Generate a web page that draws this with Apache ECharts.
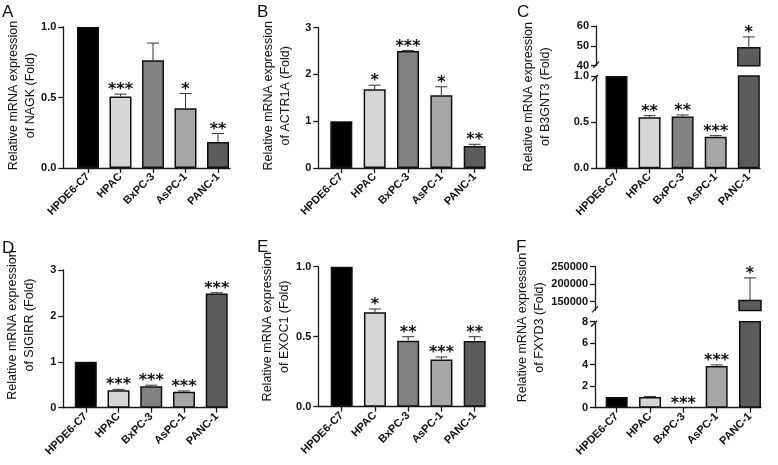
<!DOCTYPE html>
<html><head><meta charset="utf-8">
<script src="https://cdn.jsdelivr.net/npm/echarts@6.0.0/dist/echarts.min.js"></script>
<style>html,body{margin:0;padding:0;background:#fff}#chart{width:778px;height:465px}</style>
</head><body><div id="chart"></div>
<script>
const categories = ['HPDE6-C7', 'HPAC', 'BxPC-3', 'AsPC-1', 'PANC-1'];

// A - NAGK
const nagkMean = [1.0, 0.507, 0.765, 0.424, 0.184];
const nagkSem  = [0, 0.017, 0.121, 0.104, 0.061];
const nagkSig  = ['', '***', '', '*', '**'];
const nagkTicks = [0, 0.5, 1.0];
const nagkTickLabels = ['0.0', '0.5', '1.0'];

// B - ACTR1A
const actr1aMean = [1.0, 1.686, 2.5, 1.557, 0.471];
const actr1aSem  = [0, 0.085, 0.01, 0.18, 0.036];
const actr1aSig  = ['', '*', '***', '*', '**'];
const actr1aTicks = [0, 1, 2, 3];
const actr1aTickLabels = ['0', '1', '2', '3'];

// C - B3GNT3 (broken axis)
const b3gnt3Mean = [1.0, 0.552, 0.56, 0.343, 49];
const b3gnt3Sem  = [0, 0.018, 0.018, 0.011, 5.5];
const b3gnt3Sig  = ['', '**', '**', '***', '*'];
const b3gnt3LowerTicks = [0, 0.5, 1.0];
const b3gnt3LowerLabels = ['0.0', '0.5', '1.0'];
const b3gnt3UpperRange = [40, 60];
const b3gnt3UpperTicks = [40, 50, 60];
const b3gnt3UpperLabels = ['40', '50', '60'];

// D - SIGIRR
const sigirrMean = [1.0, 0.38, 0.465, 0.345, 2.49];
const sigirrSem  = [0, 0.02, 0.025, 0.02, 0.015];
const sigirrSig  = ['', '***', '***', '***', '***'];
const sigirrTicks = [0, 1, 2, 3];
const sigirrTickLabels = ['0', '1', '2', '3'];

// E - EXOC1
const exoc1Mean = [1.0, 0.674, 0.471, 0.338, 0.469];
const exoc1Sem  = [0, 0.024, 0.029, 0.017, 0.031];
const exoc1Sig  = ['', '*', '**', '***', '**'];
const exoc1Ticks = [0, 0.5, 1.0];
const exoc1TickLabels = ['0.0', '0.5', '1.0'];

// F - FXYD3 (broken axis)
const fxyd3Mean = [1.0, 1.0, 0.0, 3.88, 153000];
const fxyd3Sem  = [0, 0.05, 0, 0.1, 65000];
const fxyd3Sig  = ['', '', '***', '***', '*'];
const fxyd3LowerTicks = [0, 2, 4, 6, 8];
const fxyd3LowerLabels = ['0', '2', '4', '6', '8'];
const fxyd3UpperRange = [125000, 250000];
const fxyd3UpperTicks = [150000, 200000, 250000];
const fxyd3UpperLabels = ['150000', '200000', '250000'];

// styles
const barColors = ['#000000', '#d6d6d6', '#828282', '#a6a6a6', '#5c5c5c'];
const AX = '#1a1a1a';
const TXT = '#111111';

// layout (pixels)
const panels = [
  { letter: 'A', gene: 'NAGK', mean: nagkMean, sem: nagkSem, sig: nagkSig,
    segs: [{ ticks: nagkTicks, labels: nagkTickLabels, range: [0, 1] }],
    lay: { yx: 63.3, first: 88, last: 218, end: 230, segs: [{ top: 27, bottom: 168 }], title: [22, 95.5], letterPos: [2, 4] } },
  { letter: 'B', gene: 'ACTR1A', mean: actr1aMean, sem: actr1aSem, sig: actr1aSig,
    segs: [{ ticks: actr1aTicks, labels: actr1aTickLabels, range: [0, 3] }],
    lay: { yx: 318.3, first: 341.3, last: 474.7, end: 485, segs: [{ top: 27.7, bottom: 168 }], title: [277, 95.8], letterPos: [257, 3.5] } },
  { letter: 'C', gene: 'B3GNT3', mean: b3gnt3Mean, sem: b3gnt3Sem, sig: b3gnt3Sig,
    segs: [{ ticks: b3gnt3LowerTicks, labels: b3gnt3LowerLabels, range: [0, 1] },
           { ticks: b3gnt3UpperTicks, labels: b3gnt3UpperLabels, range: b3gnt3UpperRange }],
    lay: { yx: 596, first: 616.5, last: 748.8, end: 760, segs: [{ top: 76, bottom: 168.3 }, { top: 26, bottom: 65.7 }], title: [537, 96.7], letterPos: [517, 3.5] } },
  { letter: 'D', gene: 'SIGIRR', mean: sigirrMean, sem: sigirrSem, sig: sigirrSig,
    segs: [{ ticks: sigirrTicks, labels: sigirrTickLabels, range: [0, 3] }],
    lay: { yx: 63.3, first: 85.8, last: 216.7, end: 227.3, segs: [{ top: 270, bottom: 407.7 }], title: [21, 325], letterPos: [2, 240] } },
  { letter: 'E', gene: 'EXOC1', mean: exoc1Mean, sem: exoc1Sem, sig: exoc1Sig,
    segs: [{ ticks: exoc1Ticks, labels: exoc1TickLabels, range: [0, 1] }],
    lay: { yx: 318.3, first: 341.7, last: 474.7, end: 485, segs: [{ top: 266.7, bottom: 406.7 }], title: [276, 326.7], letterPos: [257, 239] } },
  { letter: 'F', gene: 'FXYD3', mean: fxyd3Mean, sem: fxyd3Sem, sig: fxyd3Sig,
    segs: [{ ticks: fxyd3LowerTicks, labels: fxyd3LowerLabels, range: [0, 8] },
           { ticks: fxyd3UpperTicks, labels: fxyd3UpperLabels, range: fxyd3UpperRange }],
    lay: { yx: 595, first: 616.7, last: 750, end: 761, segs: [{ top: 321.7, bottom: 407.7 }, { top: 266.7, bottom: 310.4 }], title: [531, 327.5], letterPos: [516, 239] } }
];

const grids = [], xAxes = [], yAxes = [], series = [], graphic = [];
const catIdx = categories.map((c, i) => i);

panels.forEach(p => {
  const L = p.lay;
  const sp = (L.last - L.first) / 4;
  const xmin = -(L.first - L.yx) / sp;
  const xmax = 4 + (L.end - L.last) / sp;
  const lowerMax = p.segs[0].range[1];
  p.segs.forEach((s, k) => {
    const gi = grids.length;
    const pos = L.segs[k];
    grids.push({ left: L.yx, top: pos.top, width: L.end - L.yx, height: pos.bottom - pos.top, containLabel: false, outerBoundsMode: 'none' });
    xAxes.push({
      gridIndex: gi, type: 'value', min: xmin, max: xmax, show: k === 0,
      axisLine: { show: true, onZero: false, lineStyle: { color: AX, width: 1.3 } },
      axisTick: { show: true, customValues: catIdx, length: 5, lineStyle: { color: AX, width: 1.3 } },
      axisLabel: { show: true, customValues: catIdx, rotate: 45, margin: 7, fontSize: 11, fontWeight: 'bold',
        fontFamily: 'Liberation Sans', color: TXT, formatter: v => categories[Math.round(v)] },
      splitLine: { show: false }
    });
    yAxes.push({
      gridIndex: gi, type: 'value', min: s.range[0], max: s.range[1],
      axisLine: { show: true, onZero: false, lineStyle: { color: AX, width: 1.3 } },
      axisTick: { show: true, customValues: s.ticks, length: 5, lineStyle: { color: AX, width: 1.3 } },
      axisLabel: { show: true, customValues: s.ticks, margin: 7, fontSize: 11, fontWeight: 'bold',
        fontFamily: 'Liberation Sans', color: TXT,
        formatter: v => { const j = s.ticks.findIndex(t => Math.abs(t - v) < 1e-6 * Math.max(1, Math.abs(t))); return j >= 0 ? s.labels[j] : ''; } },
      splitLine: { show: false }
    });
    if (k === 0) {
      series.push({
        type: 'bar', xAxisIndex: gi, yAxisIndex: gi, barWidth: 22, clip: true, z: 2,
        itemStyle: { borderColor: '#111', borderWidth: 1.5 },
        data: p.mean.map((m, i) => ({ value: [i, m], itemStyle: { color: barColors[i], borderWidth: m > 0 ? 1.5 : 0 } }))
      });
    } else {
      const lo = s.range[0];
      series.push({
        type: 'custom', xAxisIndex: gi, yAxisIndex: gi, z: 2,
        data: p.mean.map((m, i) => [i, m]).filter(d => d[1] > lowerMax),
        renderItem: (params, api) => {
          const i = api.value(0), m = api.value(1);
          const a = api.coord([i, lo]), b = api.coord([i, m]);
          return { type: 'rect', shape: { x: a[0] - 11, y: b[1], width: 22, height: a[1] - b[1] },
            style: { fill: barColors[i], stroke: '#111', lineWidth: 1.5 } };
        }
      });
    }
    // error bars and significance marks
    const inSeg = (m) => p.segs.length === 1 || (k === 0 ? m <= lowerMax : m > lowerMax);
    series.push({
      type: 'custom', xAxisIndex: gi, yAxisIndex: gi, z: 5,
      data: p.mean.map((m, i) => [i, m, p.sem[i]]).filter(d => inSeg(d[1])),
      renderItem: (params, api) => {
        const i = api.value(0), m = api.value(1), e = api.value(2);
        const base = api.coord([i, m]);
        const top = api.coord([i, m + e]);
        const ch = [];
        if (e > 0) {
          ch.push({ type: 'line', shape: { x1: base[0], y1: base[1], x2: top[0], y2: top[1] }, style: { stroke: '#333', lineWidth: 1 } });
          ch.push({ type: 'line', shape: { x1: top[0] - 6, y1: top[1], x2: top[0] + 6, y2: top[1] }, style: { stroke: '#333', lineWidth: 1 } });
        }
        const star = p.sig[i];
        if (star) {
          ch.push({ type: 'text', x: top[0], y: top[1] - 4,
            style: { text: star, align: 'center', verticalAlign: 'middle', font: 'bold 16px "DejaVu Sans"', fill: TXT } });
        }
        return { type: 'group', children: ch };
      }
    });
  });
  // axis break marks
  if (p.segs.length > 1) {
    const upB = L.segs[1].bottom, loT = L.segs[0].top;
    graphic.push({ type: 'line', shape: { x1: L.yx - 3, y1: upB + 2, x2: L.yx + 3, y2: upB - 4 }, style: { stroke: AX, lineWidth: 1.3 } });
    graphic.push({ type: 'line', shape: { x1: L.yx - 4, y1: loT + 5, x2: L.yx + 2, y2: loT - 1 }, style: { stroke: AX, lineWidth: 1.3 } });
  }
  // y-axis title
  graphic.push({ type: 'text', x: L.title[0], y: L.title[1], rotation: Math.PI / 2,
    style: { text: 'Relative mRNA expression\nof ' + p.gene + ' (Fold)', align: 'center', verticalAlign: 'middle',
      font: '12.5px "Liberation Sans"', lineHeight: 17, fill: TXT } });
  // panel letter
  graphic.push({ type: 'text', x: L.letterPos[0], y: L.letterPos[1],
    style: { text: p.letter, align: 'left', verticalAlign: 'top', font: '17px "Liberation Sans"', fill: TXT } });
});

const chart = echarts.init(document.getElementById('chart'), null, { renderer: 'canvas' });
chart.setOption({
  animation: false,
  backgroundColor: '#ffffff',
  grid: grids, xAxis: xAxes, yAxis: yAxes, series: series, graphic: graphic
});
</script></body></html>
